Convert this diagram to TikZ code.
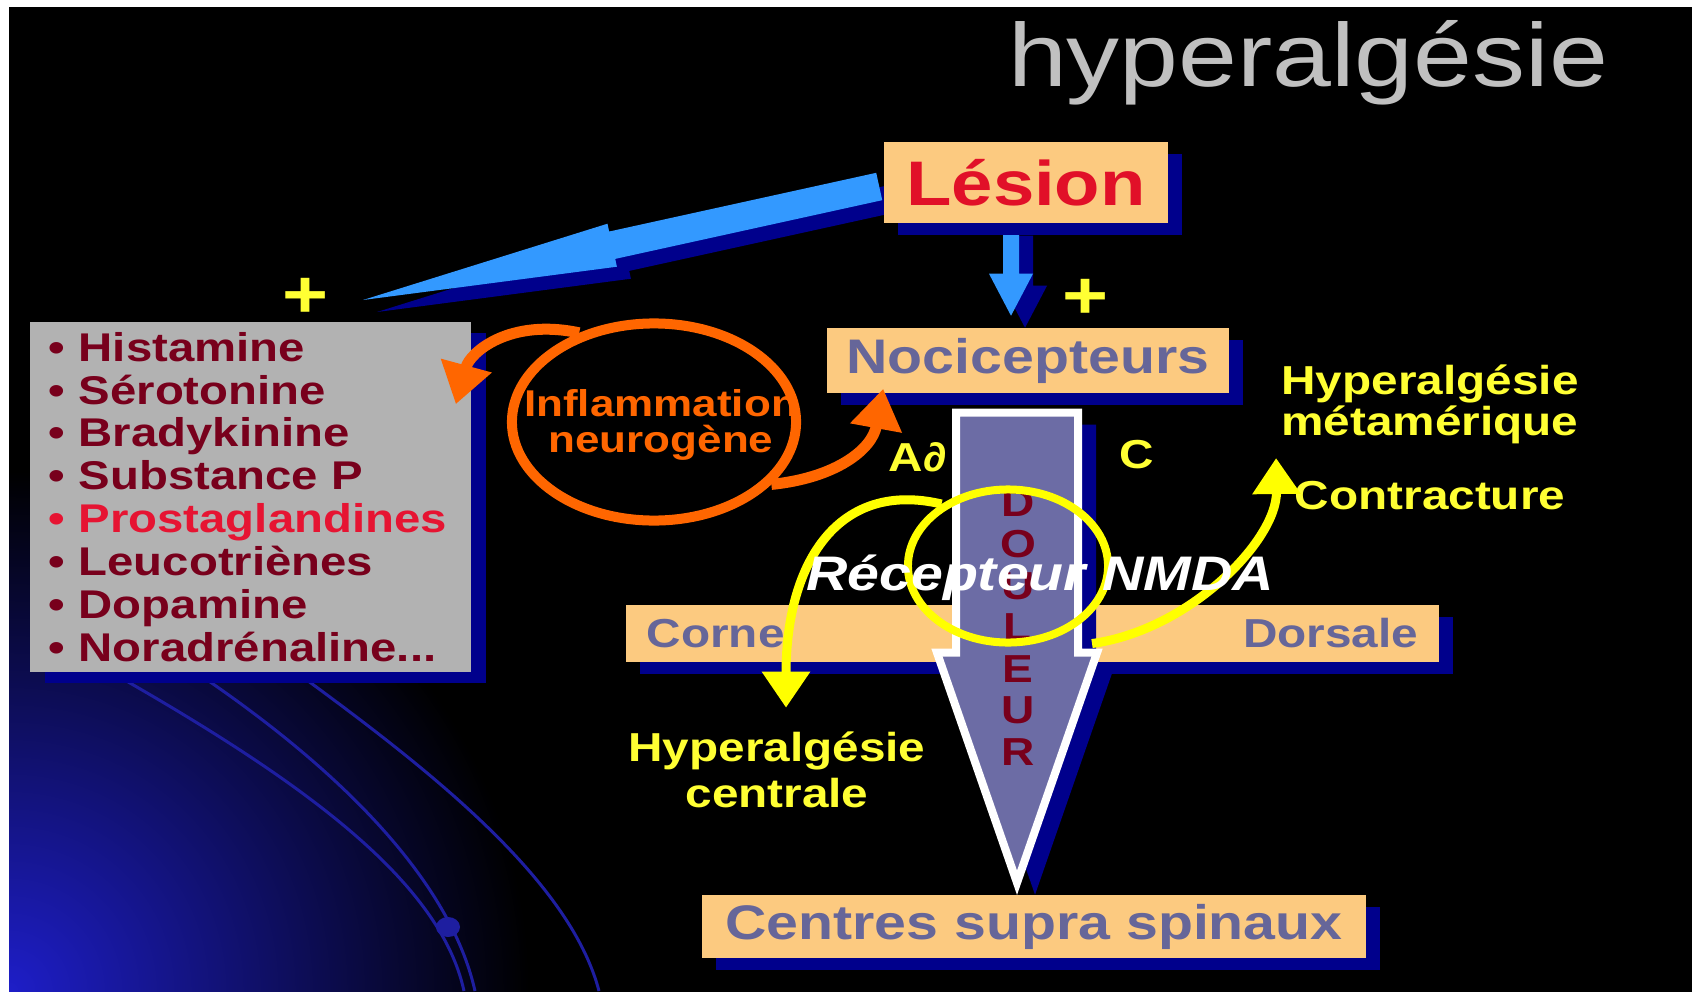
\documentclass[tikz,border=0pt]{standalone}
\usepackage{fontspec}
\setmainfont{Liberation Sans}[FakeStretch=1.18]
\usepackage{xcolor}
\usepackage{tikz}
\usetikzlibrary{shapes.geometric, arrows.meta, positioning, calc, backgrounds, shadows}
\definecolor{boxorange}{RGB}{252,202,128}
\definecolor{navyshadow}{RGB}{0,0,140}
\definecolor{arrowblue}{RGB}{51,153,255}
\definecolor{slate}{RGB}{102,102,153}
\definecolor{arrowslate}{RGB}{108,108,165}
\definecolor{lesionred}{RGB}{225,16,40}
\definecolor{listgray}{RGB}{178,178,178}
\definecolor{listred}{RGB}{120,0,28}
\definecolor{prostared}{RGB}{230,20,50}
\definecolor{inflamorange}{RGB}{255,102,0}
\definecolor{ringyellow}{RGB}{255,255,0}
\definecolor{labelyellow}{RGB}{255,255,51}
\definecolor{titlegray}{RGB}{192,192,192}
\definecolor{glowblue}{RGB}{30,30,200}
\definecolor{arcblue}{RGB}{30,30,160}

\begin{document}
\begin{tikzpicture}[
  x=0.01cm, y=-0.01cm,
  navyshade/.style={drop shadow={shadow xshift=0.14cm, shadow yshift=-0.12cm, fill=navyshadow, opacity=1}},
  box/.style={fill=boxorange, inner sep=0pt, text=slate, navyshade,
              font=\bfseries\fontsize{13.8}{15}\selectfont},
  lbl/.style={font=\bfseries\fontsize{11.5}{11.7}\selectfont, text=labelyellow, align=center, inner sep=0pt},
  plussign/.style={font=\bfseries\fontsize{19}{19}\selectfont, text=labelyellow, inner sep=0pt},
  blockarr/.style={fill=arrowblue, navyshade},
  oarr/.style={draw=inflamorange, line width=0.11cm, -{Triangle[length=0.4cm, width=0.5cm]}},
  yarr/.style={draw=ringyellow, line width=0.09cm, -{Triangle[length=0.36cm, width=0.46cm]}},
  arcline/.style={draw=arcblue, line width=0.03cm},
]
  \useasboundingbox (0,0) rectangle (1692,991);

  % Slide background
  \begin{scope}[on background layer]
    \fill[white] (-10,-10) rectangle (1710,1010);
    \fill[black] (9,7) rectangle (1710,1010);
    \begin{scope}
      \clip (9,7) rectangle (1710,1010);
      \shade[inner color=glowblue, outer color=black] (9,991) circle (520);
    \end{scope}
    \draw[arcline] (116,675) .. controls (300,780) and (440,880) .. (464,991);
    \draw[arcline] (200,675) .. controls (340,770) and (450,880) .. (475,991);
    \draw[arcline] (300,675) .. controls (430,770) and (570,880) .. (599,991);
    \fill[arcblue] (448,927) ellipse (12 and 10);
  \end{scope}

  % Boxes
  \node[box, minimum width=2.84cm, minimum height=0.81cm, text=lesionred,
        font=\bfseries\fontsize{17.9}{19}\selectfont] (lesion) at (1026,182.5) {Lésion};
  \node[box, minimum width=4.02cm, minimum height=0.65cm] (noci) at (1028,360.5) {Nocicepteurs};
  \node[fill=listgray, minimum width=4.41cm, minimum height=3.5cm, inner sep=0pt,
        text width=4.03cm, align=left, text=listred,
        font=\bfseries\fontsize{11.4}{12.2}\selectfont,
        drop shadow={shadow xshift=0.15cm, shadow yshift=-0.11cm, fill=navyshadow, opacity=1}]
        (list) at (250.5,497)
        {• Histamine\\• Sérotonine\\• Bradykinine\\• Substance P\\
         \textcolor{prostared}{• Prostaglandines}\\• Leucotriènes\\• Dopamine\\• Noradrénaline...};
  \node[box, minimum width=8.13cm, minimum height=0.57cm, text width=7.71cm,
        font=\bfseries\fontsize{11.5}{12}\selectfont] (corne) at (1032.5,633.5) {Corne\hfill Dorsale};
  \node[box, minimum width=6.64cm, minimum height=0.63cm] (centres) at (1034,926.5) {Centres supra spinaux};

  % Blue arrows from the lesion
  \begin{scope}[on background layer]
    \coordinate (wA) at ($(lesion.west)+(-4,4)$);
    \coordinate (wT) at ($(306,298)+(57,2)$);
    \coordinate (wB) at ($(wT)!2.55cm!(wA)$);
    \fill[blockarr] ($(wA)!0.14cm!-90:(wT)$) -- ($(wB)!0.14cm!-90:(wT)$)
      -- ($(wB)!0.22cm!-90:(wT)$) -- (wT) -- ($(wB)!0.22cm!90:(wT)$)
      -- ($(wB)!0.14cm!90:(wT)$) -- ($(wA)!0.14cm!90:(wT)$) -- cycle;
    \coordinate (ldn) at ($(lesion.south)+(-15,0)$);
    \fill[blockarr] ($(ldn)+(-8,0)$) -- ++(0,50) -- ++(-14,0) -- ++(22,42)
      -- ++(22,-42) -- ++(-14,0) -- ++(0,-50) -- cycle;
  \end{scope}
  \node[plussign] (plusL) at (306,298) {+};
  \node[plussign] (plusR) at (1085,299) {+};

  % Pain arrow
  \coordinate (dtop) at ($(noci.south)+(-11,19)$);
  \filldraw[fill=arrowslate, draw=white, line width=0.08cm,
            drop shadow={shadow xshift=0.18cm, shadow yshift=-0.12cm, fill=navyshadow, opacity=1}]
    ($(dtop)+(-61,0)$) -- ++(0,240) -- ++(-19,0) -- ++(80,230) -- ++(80,-230)
    -- ++(-19,0) -- ++(0,-240) -- cycle;
  \node[font=\bfseries\fontsize{11.1}{11.8}\selectfont, text=listred, align=center, inner sep=0pt]
    (doul) at (1018,627.5) {D\\O\\U\\L\\E\\U\\R};

  % Neurogenic inflammation loop
  \node[ellipse, draw=inflamorange, line width=0.1cm, minimum width=2.84cm,
        minimum height=1.97cm, inner sep=0pt] (inflam) at (654,422) {};
  \node[font=\bfseries\fontsize{10.6}{10}\selectfont, text=inflamorange, align=center, inner sep=0pt]
    (inflamtxt) at (661,425) {Inflammation\\neurogène};
  \draw[oarr] (inflam.130) .. controls (510,318) and (470,352) .. ($(list.north east)+(-16,83)$);
  \draw[oarr] (inflam.-28) .. controls (835,478) and (872,450) .. ($(noci.south west)+(57,-5)$);

  % Labels
  \node[lbl] (adelta) at (918,457) {A∂};
  \node[lbl] (cfib) at (1137,455) {C};
  \node[lbl] (hypm) at (1430,404) {Hyperalgésie\\métamérique};
  \node[lbl] (contr) at (1430,496) {Contracture};
  \node[lbl, font=\bfseries\fontsize{11.5}{13.1}\selectfont] (hypc) at (777,769.5) {Hyperalgésie\\centrale};

  % NMDA receptor
  \node[ellipse, draw=ringyellow, line width=0.08cm, minimum width=2.0cm,
        minimum height=1.53cm, inner sep=0pt] (nmda) at (1008,566) {};
  \draw[yarr] (nmda.137) .. controls (840,480) and (786,560) .. ($(hypc.north)+(9,-23)$);
  \draw[yarr] ($(nmda.south)+(84,-3)$) .. controls (1190,630) and (1277,540) .. ($(contr.west)+(-18,-38)$);
  \node[font=\bfseries\itshape\fontsize{13.8}{15}\selectfont, text=white, inner sep=0pt]
    (recep) at (1040,578) {Récepteur NMDA};

  % Title
  \node[font=\fontsize{25.5}{27}\selectfont, text=titlegray, anchor=base, inner sep=0pt]
    (title) at (1308,87) {hyperalgésie};
\end{tikzpicture}
\end{document}
